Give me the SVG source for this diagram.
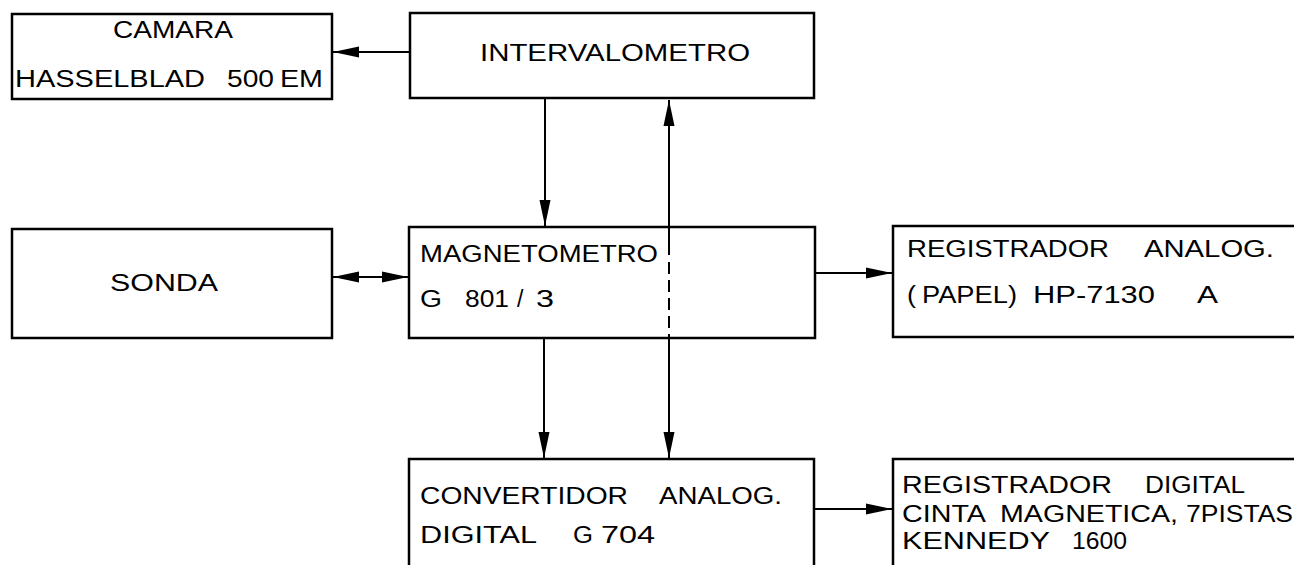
<svg xmlns="http://www.w3.org/2000/svg" width="1294" height="565" viewBox="0 0 1294 565">
<style>
.box{fill:none;stroke:#000;stroke-width:2.5}
.ln{fill:none;stroke:#000;stroke-width:2}
.t{font-family:"Liberation Sans",Arial,sans-serif;font-size:23px;fill:#000}
</style>
<defs>
<marker id="ah" markerUnits="userSpaceOnUse" markerWidth="27" markerHeight="12" refX="26" refY="6" orient="auto-start-reverse" viewBox="0 0 27 12">
<path d="M0,0.5 L26,6 L0,11.5 z" fill="#000"/>
</marker>
</defs>
<rect width="1294" height="565" fill="#fff"/>
<g id="camara">
<rect class="box" x="12" y="14" width="320" height="85"/>
<text class="t" x="113" y="38" textLength="120" lengthAdjust="spacingAndGlyphs">CAMARA</text>
<text class="t" x="15" y="87" textLength="190" lengthAdjust="spacingAndGlyphs">HASSELBLAD</text>
<text class="t" x="227" y="87" textLength="47" lengthAdjust="spacingAndGlyphs">500</text>
<text class="t" x="280" y="87" textLength="43" lengthAdjust="spacingAndGlyphs">EM</text>
</g>
<g id="intervalometro">
<rect class="box" x="410" y="13" width="404" height="85"/>
<text class="t" x="480" y="61" textLength="270" lengthAdjust="spacingAndGlyphs">INTERVALOMETRO</text>
</g>
<g id="sonda">
<rect class="box" x="12" y="229" width="320" height="109"/>
<text class="t" x="110" y="291" textLength="108" lengthAdjust="spacingAndGlyphs">SONDA</text>
</g>
<g id="magnetometro">
<rect class="box" x="409" y="227" width="406" height="111"/>
<text class="t" x="420" y="262" textLength="238" lengthAdjust="spacingAndGlyphs">MAGNETOMETRO</text>
<text class="t" x="420" y="307" textLength="22" lengthAdjust="spacingAndGlyphs">G</text>
<text class="t" x="465" y="307" textLength="44" lengthAdjust="spacingAndGlyphs">801</text>
<text class="t" x="517" y="307">/</text>
<text class="t" x="536" y="307" textLength="18" lengthAdjust="spacingAndGlyphs">3</text>
</g>
<g id="registrador-analog">
<rect class="box" x="893" y="226" width="420" height="111"/>
<text class="t" x="907" y="257" textLength="202" lengthAdjust="spacingAndGlyphs">REGISTRADOR</text>
<text class="t" x="1144" y="257" textLength="130" lengthAdjust="spacingAndGlyphs">ANALOG.</text>
<text class="t" x="907" y="303" textLength="9" lengthAdjust="spacingAndGlyphs">(</text>
<text class="t" x="922" y="303" textLength="95" lengthAdjust="spacingAndGlyphs">PAPEL)</text>
<text class="t" x="1033" y="303" textLength="122" lengthAdjust="spacingAndGlyphs">HP-7130</text>
<text class="t" x="1197" y="303" textLength="21" lengthAdjust="spacingAndGlyphs">A</text>
</g>
<g id="convertidor">
<rect class="box" x="409" y="459" width="405" height="120"/>
<text class="t" x="420" y="504" textLength="208" lengthAdjust="spacingAndGlyphs">CONVERTIDOR</text>
<text class="t" x="659" y="504" textLength="123" lengthAdjust="spacingAndGlyphs">ANALOG.</text>
<text class="t" x="420" y="543" textLength="117" lengthAdjust="spacingAndGlyphs">DIGITAL</text>
<text class="t" x="573" y="543" textLength="20" lengthAdjust="spacingAndGlyphs">G</text>
<text class="t" x="601" y="543" textLength="54" lengthAdjust="spacingAndGlyphs">704</text>
</g>
<g id="registrador-digital">
<rect class="box" x="893" y="459" width="420" height="120"/>
<text class="t" x="902" y="493" textLength="210" lengthAdjust="spacingAndGlyphs">REGISTRADOR</text>
<text class="t" x="1145" y="493" textLength="100" lengthAdjust="spacingAndGlyphs">DIGITAL</text>
<text class="t" x="902" y="522" textLength="84" lengthAdjust="spacingAndGlyphs">CINTA</text>
<text class="t" x="1000" y="522" textLength="178" lengthAdjust="spacingAndGlyphs">MAGNETICA,</text>
<text class="t" x="1186" y="522" textLength="107" lengthAdjust="spacingAndGlyphs">7PISTAS</text>
<text class="t" x="902" y="549" textLength="148" lengthAdjust="spacingAndGlyphs">KENNEDY</text>
<text class="t" x="1072" y="549" textLength="55" lengthAdjust="spacingAndGlyphs">1600</text>
</g>
<g id="connectors">
<line class="ln" x1="410" y1="52" x2="333" y2="52" marker-end="url(#ah)"/>
<line class="ln" x1="333" y1="277" x2="408" y2="277" marker-start="url(#ah)" marker-end="url(#ah)"/>
<line class="ln" x1="545" y1="99" x2="545" y2="226" marker-end="url(#ah)"/>
<line class="ln" x1="669" y1="255" x2="669" y2="100" marker-end="url(#ah)"/>
<line class="ln" x1="669" y1="262" x2="669" y2="338" stroke-dasharray="12 6"/>
<line class="ln" x1="816" y1="273" x2="892" y2="273" marker-end="url(#ah)"/>
<line class="ln" x1="544" y1="339" x2="544" y2="458" marker-end="url(#ah)"/>
<line class="ln" x1="669" y1="339" x2="669" y2="458" marker-end="url(#ah)"/>
<line class="ln" x1="815" y1="509" x2="892" y2="509" marker-end="url(#ah)"/>
</g>
</svg>
